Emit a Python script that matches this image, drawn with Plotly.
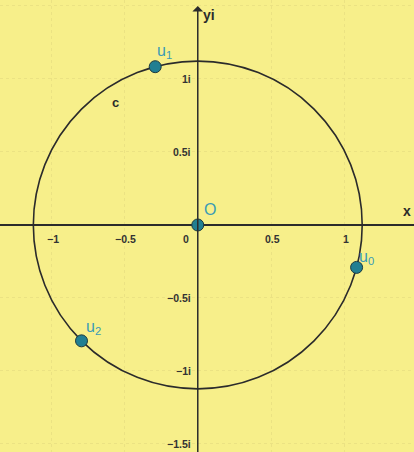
import plotly.graph_objects as go

# Data: cube roots of 1 - i on circle C of radius 2^(1/6)
radius = 1.1225
point_names = ["O", "u<sub>0</sub>", "u<sub>1</sub>", "u<sub>2</sub>"]
point_x = [0.0, 1.0842, -0.2905, -0.7937]
point_y = [0.0, -0.2905, 1.0842, -0.7937]

x_tick_vals = [-1, -0.5, 0, 0.5, 1]
x_tick_text = ["−1", "−0.5", "0", "0.5", "1"]
y_tick_vals = [1, 0.5, -0.5, -1, -1.5]
y_tick_text = ["1i", "0.5i", "−0.5i", "−1i", "−1.5i"]
grid_vals = [-1.5, -1, -0.5, 0.5, 1, 1.5]

BG = "#F7EF8A"
DARK = "#2b2b2b"
TEAL_FILL = "#217F92"
TEAL_TEXT = "#3A9BB5"
FONT = "Liberation Sans, Arial, sans-serif"

fig = go.Figure()

# points
fig.add_trace(go.Scatter(
    x=point_x, y=point_y, mode="markers",
    marker=dict(size=12, color=TEAL_FILL, line=dict(color="#1c3a40", width=1)),
    hoverinfo="skip", showlegend=False,
))

# circle C
fig.add_shape(type="circle", xref="x", yref="y",
              x0=-radius, y0=-radius, x1=radius, y1=radius,
              line=dict(color=DARK, width=1.6), layer="between")

annotations = []
# y axis with arrow
annotations.append(dict(x=0, y=1.50, ax=0, ay=-1.6, xref="x", yref="y",
                        axref="x", ayref="y", showarrow=True, arrowhead=1,
                        arrowsize=1.2, arrowwidth=1.5, arrowcolor=DARK, text=""))
# axis names
annotations.append(dict(x=1.43, y=0.03, xref="x", yref="y", text="<b>x</b>",
                        showarrow=False, font=dict(size=14, color=DARK, family=FONT),
                        xanchor="center", yanchor="bottom"))
annotations.append(dict(x=0.02, y=1.44, xref="x", yref="y", text="<b>yi</b>",
                        showarrow=False, font=dict(size=14, color=DARK, family=FONT),
                        xanchor="left", yanchor="middle"))
# circle name
annotations.append(dict(x=-0.56, y=0.84, xref="x", yref="y", text="<b>c</b>",
                        showarrow=False, font=dict(size=13, color=DARK, family=FONT)))

# x tick labels
for v, t in zip(x_tick_vals, x_tick_text):
    xv = v - 0.08 if v == 0 else v + 0.01
    annotations.append(dict(x=xv, y=-0.04, xref="x", yref="y", text="<b>" + t + "</b>",
                            showarrow=False, xanchor="center", yanchor="top",
                            font=dict(size=10.5, color="#333333", family=FONT)))
# y tick labels
for v, t in zip(y_tick_vals, y_tick_text):
    annotations.append(dict(x=-0.035, y=v, xref="x", yref="y", text="<b>" + t + "</b>",
                            showarrow=False, xanchor="right", yanchor="middle",
                            font=dict(size=10.5, color="#333333", family=FONT)))

# point labels
label_offsets = [(0.03, 0.035), (0.0, -0.01), (0.0, 0.025), (0.02, 0.015)]
for nm, px, py, (dx, dy) in zip(point_names, point_x, point_y, label_offsets):
    annotations.append(dict(x=px + dx, y=py + dy, xref="x", yref="y", text=nm,
                            showarrow=False, xanchor="left", yanchor="bottom",
                            font=dict(size=16, color=TEAL_TEXT, family=FONT)))

grid_style = dict(showgrid=True, gridcolor="#EBE283", griddash="dot", gridwidth=1,
                  tickvals=grid_vals, showticklabels=False, ticks="",
                  showline=False, fixedrange=True)

fig.update_layout(
    width=414, height=452,
    margin=dict(l=0, r=0, t=0, b=0),
    paper_bgcolor=BG, plot_bgcolor=BG,
    xaxis=dict(range=[-1.35, 1.476], zeroline=False, **grid_style),
    yaxis=dict(range=[-1.555, 1.541], zeroline=True, zerolinecolor=DARK,
               zerolinewidth=1.6, **grid_style),
    annotations=annotations,
    showlegend=False,
)

fig.write_html("out.html", config={"displayModeBar": False},
               post_script="document.body.style.margin='0';document.body.style.background='" + BG + "';")
